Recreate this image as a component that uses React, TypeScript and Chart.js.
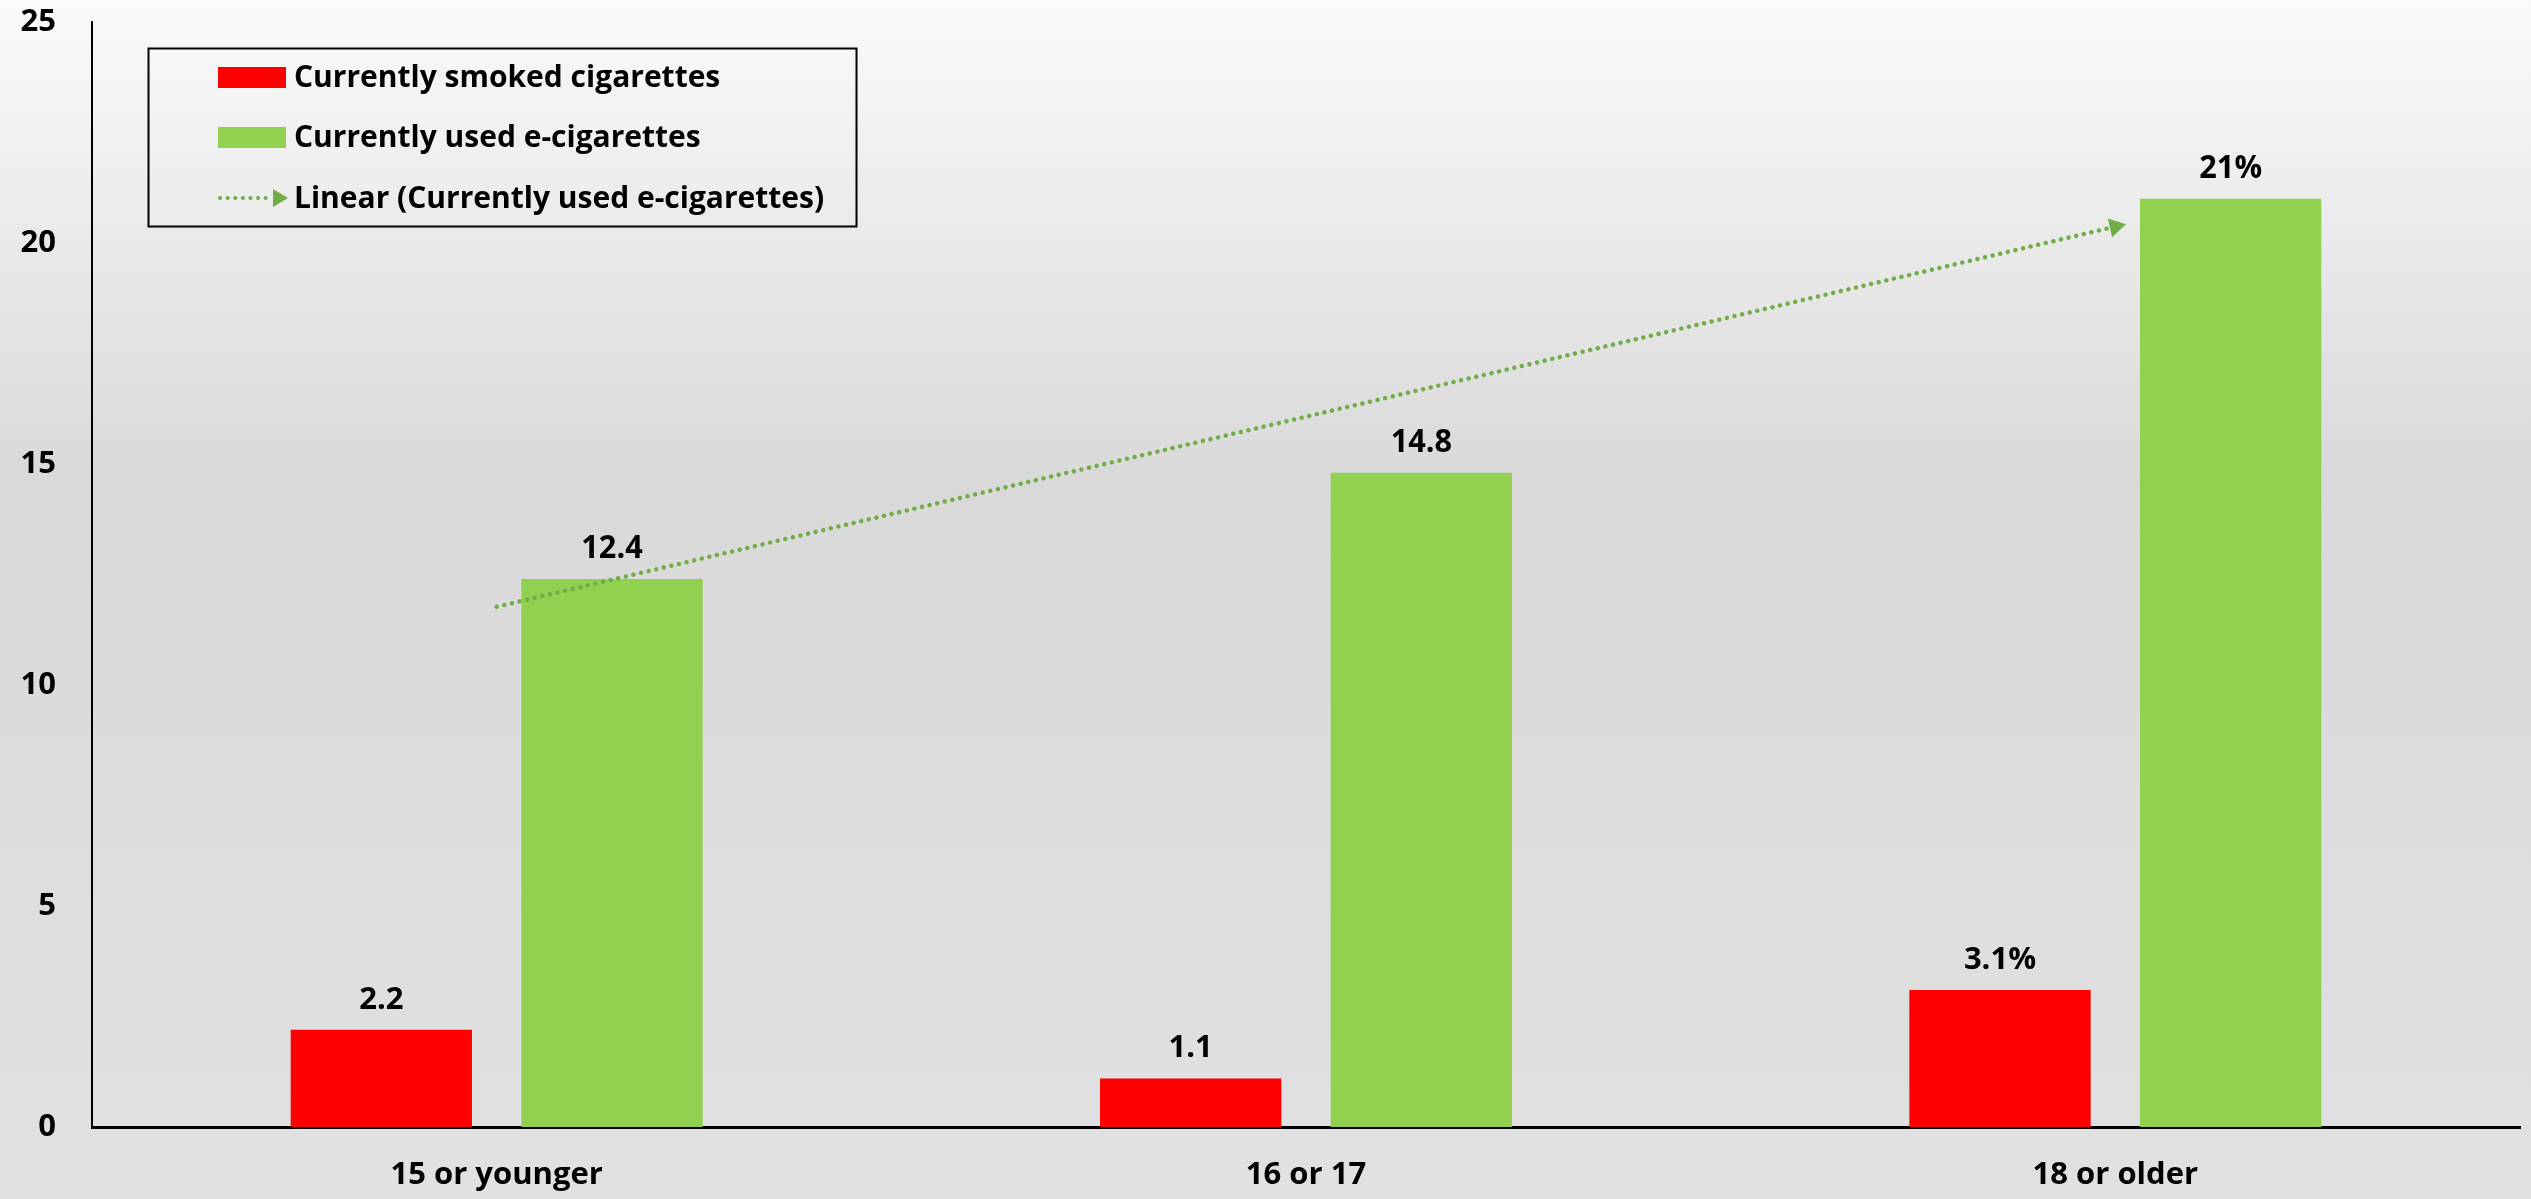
import React, { useEffect, useRef } from 'react';
import { Chart, registerables } from 'chart.js';

Chart.register(...registerables);

const categories = ['15 or younger', '16 or 17', '18 or older'];
const smokedValues = [2.2, 1.1, 3.1];
const ecigValues = [12.4, 14.8, 21];
const smokedLabels = ['2.2', '1.1', '3.1%'];
const ecigLabels = ['12.4', '14.8', '21%'];
const trendValues = [11.77, null, 20.37];
const yTicks = [0, 5, 10, 15, 20, 25];
const legendLabels = [
  'Currently smoked cigarettes',
  'Currently used e-cigarettes',
  'Linear (Currently used e-cigarettes)',
];

const RED = '#FF0000';
const GREEN = '#92D050';
const TREND = '#70AD47';
const FONT = "'Open Sans', 'DejaVu Sans', sans-serif";

const W = 2531;
const H = 1199;

const bgPlugin = {
  id: 'bg',
  beforeDraw(chart: any) {
    const { ctx } = chart;
    const g = ctx.createLinearGradient(0, 0, 0, H);
    g.addColorStop(0, '#fafafa');
    g.addColorStop(0.4, '#d9d9d9');
    g.addColorStop(1, '#e1e1e1');
    ctx.save();
    ctx.fillStyle = g;
    ctx.fillRect(0, 0, W, H);
    ctx.restore();
  },
};

const valueLabelPlugin = {
  id: 'valueLabels',
  afterDatasetsDraw(chart: any) {
    const { ctx } = chart;
    ctx.save();
    ctx.fillStyle = '#000';
    ctx.textAlign = 'center';
    ctx.textBaseline = 'alphabetic';
    const sets = [
      { idx: 0, labels: smokedLabels, font: `bold 31px ${FONT}`, squeeze: 1 },
      { idx: 1, labels: ecigLabels, font: `bold 33px ${FONT}`, squeeze: 0.93 },
    ];
    sets.forEach((s) => {
      const meta = chart.getDatasetMeta(s.idx);
      ctx.font = s.font;
      meta.data.forEach((el: any, i: number) => {
        const t = s.labels[i];
        const w = ctx.measureText(t).width * s.squeeze;
        ctx.fillText(t, el.x, el.y - 21, w);
      });
    });
    ctx.restore();
  },
};

const legendPlugin = {
  id: 'boxLegend',
  afterDraw(chart: any) {
    const { ctx } = chart;
    ctx.save();
    ctx.strokeStyle = '#000';
    ctx.lineWidth = 2;
    ctx.strokeRect(148.5, 48.5, 708, 178);
    const rows = [77.5, 137.5, 198];
    ctx.font = `bold 30px ${FONT}`;
    ctx.textBaseline = 'middle';
    ctx.textAlign = 'left';
    ctx.fillStyle = RED;
    ctx.fillRect(218, rows[0] - 10.5, 68, 21);
    ctx.fillStyle = GREEN;
    ctx.fillRect(218, rows[1] - 10.5, 68, 21);
    ctx.strokeStyle = TREND;
    ctx.lineWidth = 4;
    ctx.lineCap = 'round';
    ctx.setLineDash([0.1, 7.5]);
    ctx.beginPath();
    ctx.moveTo(220, rows[2]);
    ctx.lineTo(272, rows[2]);
    ctx.stroke();
    ctx.setLineDash([]);
    ctx.fillStyle = TREND;
    ctx.beginPath();
    ctx.moveTo(273, rows[2] - 9);
    ctx.lineTo(288, rows[2]);
    ctx.lineTo(273, rows[2] + 9);
    ctx.closePath();
    ctx.fill();
    ctx.fillStyle = '#000';
    legendLabels.forEach((t, i) => ctx.fillText(t, 294, rows[i] + 1));
    ctx.restore();
  },
};

export default function App() {
  const ref = useRef<HTMLCanvasElement | null>(null);
  useEffect(() => {
    document.body.style.margin = '0';
    const canvas = ref.current;
    if (!canvas) return;
    const chart = new Chart(canvas, {
      type: 'bar',
      data: {
        labels: categories,
        datasets: [
          {
            type: 'bar',
            label: legendLabels[0],
            data: smokedValues,
            backgroundColor: RED,
            categoryPercentage: 0.57,
            barPercentage: 0.786,
            order: 2,
          },
          {
            type: 'bar',
            label: legendLabels[1],
            data: ecigValues,
            backgroundColor: GREEN,
            categoryPercentage: 0.57,
            barPercentage: 0.786,
            order: 2,
          },
          {
            type: 'line',
            label: legendLabels[2],
            data: trendValues as any,
            spanGaps: true,
            borderColor: TREND,
            backgroundColor: TREND,
            borderWidth: 4.5,
            borderDash: [0.1, 7.7],
            borderCapStyle: 'round',
            pointRadius: [0, 0, 11],
            pointStyle: 'triangle',
            rotation: 77,
            pointBorderWidth: 0,
            order: 0,
          } as any,
        ],
      },
      options: {
        responsive: false,
        animation: false,
        devicePixelRatio: 1,
        layout: { padding: 0 },
        plugins: {
          legend: { display: false },
          tooltip: { enabled: false },
        },
        scales: {
          x: {
            grid: { display: false, drawTicks: false },
            border: { display: true, color: '#000', width: 3 },
            ticks: {
              color: '#000',
              font: { family: FONT, size: 31, weight: 'bold' },
              padding: 30,
            },
            afterFit: (s: any) => {
              s.height = 72;
              s.paddingLeft = 0;
              s.paddingRight = 0;
            },
          },
          y: {
            min: 0,
            max: 25,
            grid: { display: false, drawTicks: false },
            border: { display: true, color: '#000', width: 2 },
            ticks: {
              color: '#000',
              font: { family: FONT, size: 31, weight: 'bold' },
              padding: 36,
            },
            afterBuildTicks: (s: any) => {
              s.ticks = yTicks.map((v) => ({ value: v }));
            },
            afterFit: (s: any) => {
              s.width = 92;
              s.paddingTop = 22;
              s.paddingBottom = 0;
            },
          },
        },
      },
      plugins: [bgPlugin, valueLabelPlugin, legendPlugin],
    });
    return () => chart.destroy();
  }, []);
  return (
    <div style={{ position: 'absolute', left: 0, top: 0, width: W, height: H }}>
      <canvas ref={ref} width={W} height={H} style={{ display: 'block' }} />
    </div>
  );
}
